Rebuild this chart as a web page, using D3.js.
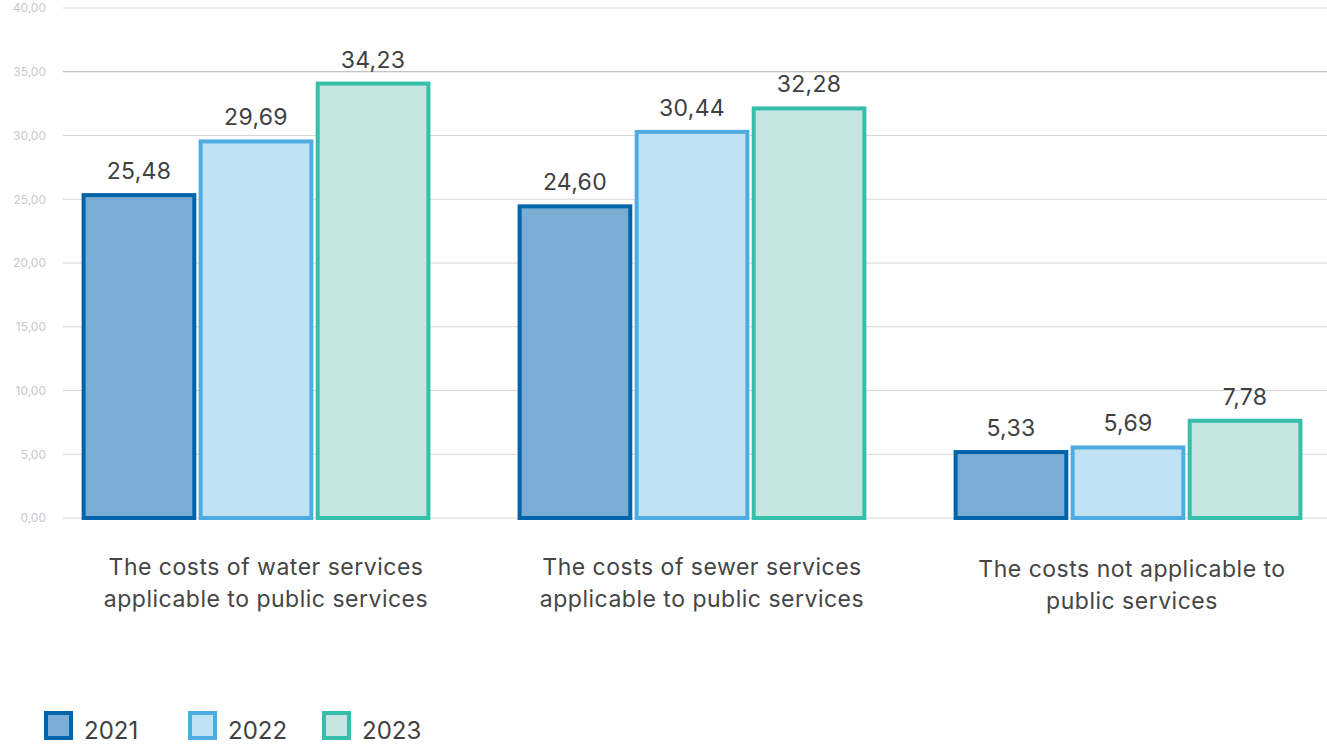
<!DOCTYPE html>
<html>
<head>
<meta charset="utf-8">
<script src="https://cdn.jsdelivr.net/npm/d3@7"></script>
<style>
  html, body { margin: 0; padding: 0; background: #fff; }
  svg { display: block; font-family: "Inter", "Open Sans", sans-serif; }
</style>
</head>
<body>
<svg id="chart" width="1327" height="744"></svg>
<script>
const categories = [
  ["The costs of water services", "applicable to public services"],
  ["The costs of sewer services", "applicable to public services"],
  ["The costs not applicable to", "public services"]
];
const series = ["2021", "2022", "2023"];
const values2021 = [25.48, 24.60, 5.33];
const values2022 = [29.69, 30.44, 5.69];
const values2023 = [34.23, 32.28, 7.78];
const tickValues = [0, 5, 10, 15, 20, 25, 30, 35, 40];

const strokeColors = ["#0064aa", "#4eace2", "#35bea9"];
const fillColors = ["#7aadd3", "#bfe2f4", "#c5e6e0"];

const svg = d3.select("#chart");
const fmt = v => d3.format(".2f")(v).replace(".", ",");

const y = d3.scaleLinear().domain([0, 40]).range([518, 8]);
const x0 = d3.scaleBand().domain(d3.range(categories.length)).range([38, 1346]).paddingInner(0.2).paddingOuter(0.1);
const x1 = d3.scaleBand().domain(series).range([0, x0.bandwidth()]).paddingInner(0.02);

// gridlines
const grid = svg.append("g");
grid.selectAll("line").data(tickValues).join("line")
  .attr("x1", 63).attr("x2", 1327)
  .attr("y1", d => y(d)).attr("y2", d => y(d))
  .attr("stroke", d => d === 35 ? "#b0b0b0" : "#d6d6d6")
  .attr("stroke-width", 1.2);

// y axis labels
const yAxis = d3.axisLeft(y).tickValues(tickValues).tickFormat(fmt).tickSize(0).tickPadding(0);
const ya = svg.append("g").attr("transform", "translate(46,0)").call(yAxis);
ya.select(".domain").remove();
ya.selectAll("text").attr("fill", "#c8c8c8").attr("font-size", 12)
  .attr("font-family", "Inter, 'Open Sans', sans-serif");

const allValues = [values2021, values2022, values2023];
const data = [];
categories.forEach((c, i) => {
  series.forEach((s, j) => {
    data.push({ cat: i, s, j, v: allValues[j][i] });
  });
});

const sw = 4;
svg.append("g").selectAll("rect").data(data).join("rect")
  .attr("x", d => x0(d.cat) + x1(d.s) + sw / 2)
  .attr("y", d => y(d.v) + sw / 2)
  .attr("width", x1.bandwidth() - sw)
  .attr("height", d => y(0) - y(d.v) - sw / 2)
  .attr("fill", d => fillColors[d.j])
  .attr("stroke", d => strokeColors[d.j])
  .attr("stroke-width", sw);

svg.append("g").selectAll("text").data(data).join("text")
  .attr("x", d => x0(d.cat) + x1(d.s) + x1.bandwidth() / 2)
  .attr("y", d => y(d.v) - 14)
  .attr("text-anchor", "middle")
  .attr("font-size", 23)
  .attr("letter-spacing", 0.3)
  .attr("fill", "#404040")
  .text(d => fmt(d.v));

// category labels
const cl = svg.append("g").selectAll("text").data(categories).join("text")
  .attr("text-anchor", "middle")
  .attr("font-size", 23)
  .attr("letter-spacing", 0.5)
  .attr("fill", "#454545");
cl.each(function(d, i) {
  const t = d3.select(this);
  const cx = x0(i) + x0.bandwidth() / 2 + (i < 2 ? 10 : 4);
  const base = i < 2 ? 575 : 577;
  d.forEach((line, k) => {
    t.append("tspan").attr("x", cx).attr("y", base + k * 32).text(line);
  });
});

// legend
const legX = [44, 188, 322];
const leg = svg.append("g").selectAll("g").data(series).join("g")
  .attr("transform", (d, i) => `translate(${legX[i]},711)`);
leg.append("rect")
  .attr("x", 2).attr("y", 2).attr("width", 25).attr("height", 25)
  .attr("fill", (d, i) => fillColors[i])
  .attr("stroke", (d, i) => strokeColors[i])
  .attr("stroke-width", 4);
leg.append("text")
  .attr("x", 40).attr("y", 28)
  .attr("font-size", 24)
  .attr("fill", "#404040")
  .text(d => d);
</script>
</body>
</html>
